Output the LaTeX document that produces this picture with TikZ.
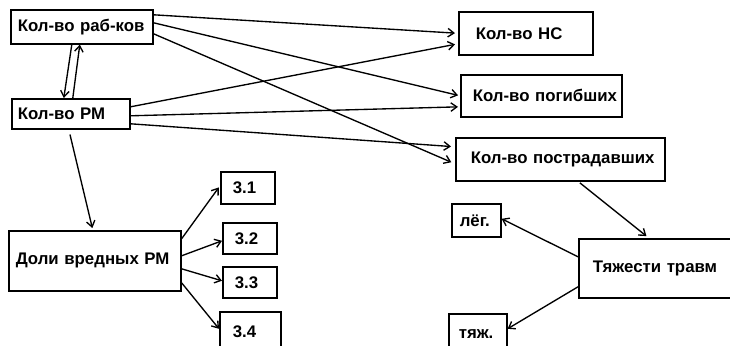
\documentclass[tikz,border=0pt]{standalone}
\usepackage{fontspec}
\setmainfont{Liberation Sans}
\usetikzlibrary{arrows.meta}
\begin{document}
\begin{tikzpicture}[x=1pt,y=-1pt,
  bx/.style={draw, line width=1.6pt, anchor=north west, align=left,
    inner ysep=0pt, font=\bfseries},
  arr/.style={line width=1.35pt, -{Straight Barb[length=6pt,width=8.5pt]}}]
\fontsize{16.8}{19}\selectfont
\clip (0,0) rectangle (730,345);
\fill[white] (0,0) rectangle (730,345);

% left column
\node[bx, minimum height=34pt, text width=128pt, inner xsep=7pt]  (rab)  at (10,9)   {\mbox{Кол-во раб-ков}};
\node[bx, minimum height=30pt, text width=106pt, inner xsep=6pt]  (rm)   at (11,98)  {\mbox{Кол-во РМ}};
\node[bx, minimum height=60pt, text width=158pt, inner xsep=7pt]  (doli) at (8,230)  {\mbox{Доли вредных РМ}};

% shares of harmful workplaces
\node[bx, minimum height=32pt, text width=30pt, inner xsep=12pt] (b31) at (220,171) {\mbox{3.1}};
\node[bx, minimum height=31pt, text width=30pt, inner xsep=12pt] (b32) at (222,222) {\mbox{3.2}};
\node[bx, minimum height=31pt, text width=30pt, inner xsep=12pt] (b33) at (222,266) {\mbox{3.3}};
\node[bx, minimum height=40pt, text width=35pt, inner xsep=13pt] (b34) at (219,311) {\mbox{3.4}};

% accident outcomes
\node[bx, minimum height=43pt, text width=100pt, inner xsep=17pt] (ns)   at (458,11)  {\mbox{Кол-во НС}};
\node[bx, minimum height=42pt, text width=137pt, inner xsep=12pt] (pog)  at (460,74)  {\mbox{Кол-во погибших}};
\node[bx, minimum height=43pt, text width=179pt, inner xsep=15pt] (post) at (455,137) {\mbox{Кол-во пострадавших}};

% injury severity
\node[bx, minimum height=59pt, text width=132pt, inner xsep=14pt] (tyag)  at (578,238) {\mbox{Тяжести травм}};
\node[bx, minimum height=33pt, text width=33pt,  inner xsep=8pt]  (leg)   at (451,203) {\mbox{лёг.}};
\node[bx, minimum height=40pt, text width=38pt,  inner xsep=10pt] (tyazh) at (448,313) {\mbox{тяж.}};

% workers <-> workplaces
\draw[arr] ([xshift=-10pt]rab.south) -- ([xshift=-7pt]rm.north);
\draw[arr] ([xshift=2pt]rm.north) -- ([xshift=-2pt]rab.south);

% workers -> outcomes
\draw[arr, shorten >=3pt] ([yshift=12pt]rab.east) -- (ns.west);
\draw[arr, shorten >=2pt] ([yshift=4pt]rab.east) -- (pog.west);
\draw[arr, shorten >=4pt] ([yshift=-7pt]rab.east) -- ([yshift=-4.5pt]post.west);

% workplaces -> outcomes
\draw[arr, shorten >=3pt] ([yshift=7pt]rm.east) -- ([yshift=-10.5pt]ns.west);
\draw[arr, shorten >=2pt] ([yshift=-2pt]rm.east) -- ([yshift=-11pt]pog.west);
\draw[arr, shorten >=4pt] ([yshift=-10pt]rm.east) -- ([yshift=12.5pt]post.west);

% workplaces -> shares
\draw[arr, shorten <=5pt, shorten >=2pt] ([xshift=-2pt]rm.south) -- ([xshift=-2pt]doli.north);
\draw[arr, shorten >=2pt] ([yshift=22pt]doli.east) -- ([yshift=2pt]b31.west);
\draw[arr] ([yshift=5pt]doli.east) -- ([yshift=-2.5pt]b32.west);
\draw[arr] ([yshift=-8pt]doli.east) -- ([yshift=1.5pt]b33.west);
\draw[arr] ([yshift=-22pt]doli.east) -- ([yshift=3pt]b34.west);

% injured -> severity -> light / heavy
\draw[arr, shorten <=2pt, shorten >=3pt] ([xshift=18pt]post.south) -- ([xshift=-10pt]tyag.north);
\draw[arr] ([yshift=11.5pt]tyag.west) -- ([yshift=1.5pt]leg.east);
\draw[arr] ([yshift=-18.5pt]tyag.west) -- ([yshift=5pt]tyazh.east);
\end{tikzpicture}
\end{document}
